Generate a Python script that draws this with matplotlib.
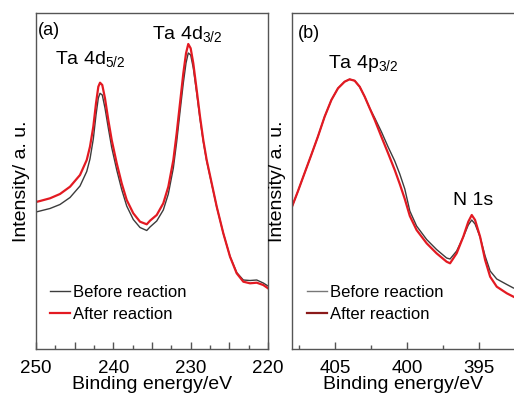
import matplotlib
matplotlib.use("Agg")
import matplotlib.pyplot as plt
from matplotlib.lines import Line2D
from matplotlib.ticker import MultipleLocator, FuncFormatter

plt.rcParams["font.family"] = ["Liberation Sans", "DejaVu Sans"]
plt.rcParams["mathtext.fontset"] = "custom"
plt.rcParams["mathtext.rm"] = "Liberation Sans"

# Panel (a): Ta 4d region (binding energy in eV, intensity in a.u.)
energy_a = [250.00, 249.48, 248.19, 246.90, 245.60, 244.31, 243.44, 243.02, 242.59,
            242.24, 241.94, 241.72, 241.43, 241.08, 240.65, 240.21, 239.56, 238.92,
            238.27, 237.42, 236.55, 235.68, 235.26, 234.39, 233.54, 232.89, 232.24,
            231.81, 231.38, 230.95, 230.60, 230.31, 230.00, 229.66, 229.22, 228.79,
            228.37, 227.93, 227.28, 226.63, 225.78, 224.91, 224.05, 223.19, 222.33,
            221.46, 220.61, 220.00]
after_a = [147, 148, 150.7, 155, 162.3, 174, 189, 202.3, 222.3,
           245.7, 262.3, 266.3, 264, 250.7, 229, 209, 185.7, 165.7,
           149, 135.7, 127.3, 124.7, 128.3, 134, 145.7, 162.3, 189,
           215.7, 245.7, 275.7, 295.7, 305, 300.7, 285.7, 259, 232.3,
           209, 189, 165.7, 142.3, 115.7, 92.3, 75.7, 67.3, 65.7,
           66.3, 64, 60.7]
before_a = [137, 138, 140.5, 144.5, 151.5, 163, 177.5, 190, 210,
            234, 251, 255.7, 254, 241, 221, 201.5, 179, 159.5,
            143, 129.5, 121.5, 118.5, 122, 128, 139, 155, 181,
            207, 237, 266, 286, 296, 294, 281, 256, 230,
            207.5, 188, 165, 142, 115.7, 92.5, 76.5, 69, 68.5,
            69, 66, 63]

# Panel (b): Ta 4p3/2 and N 1s region
energy_b = [408.00, 407.60, 407.13, 406.66, 406.20, 405.73, 405.26, 404.80, 404.34,
            403.99, 403.64, 403.29, 402.94, 402.59, 402.24, 401.78, 401.31, 400.85,
            400.50, 400.15, 399.80, 399.33, 398.63, 397.94, 397.24, 397.00, 396.54,
            396.08, 395.73, 395.49, 395.26, 394.91, 394.56, 394.21, 393.75, 393.05,
            392.59]
after_b = [142.3, 157.3, 175.7, 194, 212.3, 232.3, 249, 260.7, 267.3,
           269.7, 268.3, 262.3, 252.3, 240.7, 229, 212.3, 195.7, 179,
           165, 150, 133, 119, 105.7, 95.7, 87.3, 85.7, 95.7,
           112.3, 127.3, 134, 129, 112.3, 89, 72.3, 62.3, 55.7,
           52.3]
before_b = [142.3, 157.3, 175.7, 194, 212.3, 232.3, 249, 260.7, 267.3,
            269.7, 268.3, 262.3, 252.3, 240.7, 231, 217.3, 202, 188,
            175, 160, 138, 123, 109.5, 99.5, 91, 90, 98,
            112, 124, 129, 125, 112, 93, 78, 70, 64.5,
            61]

labels = ["Before reaction", "After reaction"]

W, H = 514, 396
fig = plt.figure(figsize=(W / 100, H / 100), dpi=100)
ax_a = fig.add_axes([36 / W, 47 / H, 232 / W, 336 / H])
ax_b = fig.add_axes([292 / W, 47 / H, 222 / W, 336 / H])

gray = "#3c3c3c"
red = "#e31a22"

for ax in (ax_a, ax_b):
    for s in ax.spines.values():
        s.set_color("#555555")
        s.set_linewidth(1.0)
    ax.set_yticks([])
    ax.set_ylim(0, 336)
    ax.xaxis.set_major_locator(MultipleLocator(5))
    ax.xaxis.set_minor_locator(MultipleLocator(2.5))
    ax.tick_params(axis="x", which="major", direction="in", length=5, width=1,
                   color="#555555", labelsize=13.5, pad=8)
    ax.tick_params(axis="x", which="minor", direction="in", length=3, width=1,
                   color="#555555")
    ax.set_xlabel("Binding energy/eV", fontsize=14, labelpad=-1)
    ax.set_ylabel("Intensity/ a. u.", fontsize=14, labelpad=4)

# (a)
ax_a.plot(energy_a, before_a, color=gray, lw=1.0)
ax_a.plot(energy_a, after_a, color=red, lw=1.6)
ax_a.set_xlim(250, 220)
ax_a.xaxis.set_major_formatter(
    FuncFormatter(lambda v, p: f"{v:.0f}" if round(v) % 10 == 0 else ""))
ax_a.text(0.009, 0.949, "(a)", transform=ax_a.transAxes, fontsize=13, va="center")
ax_a.text(0.082, 0.845, r"Ta 4d$_\mathregular{5/2}$", transform=ax_a.transAxes,
          fontsize=14, va="baseline")
ax_a.text(0.50, 0.92, r"Ta 4d$_\mathregular{3/2}$", transform=ax_a.transAxes,
          fontsize=14, va="baseline")
h_a = [Line2D([], [], color=gray, lw=1.0), Line2D([], [], color=red, lw=1.6)]
ax_a.legend(h_a, labels, loc="center left", bbox_to_anchor=(0.06, 0.135),
            frameon=False, fontsize=12, handlelength=1.2, handletextpad=0.2,
            borderpad=0, borderaxespad=0, labelspacing=0.4)

# (b)
ax_b.plot(energy_b, before_b, color=gray, lw=1.0)
ax_b.plot(energy_b, after_b, color=red, lw=1.6)
ax_b.set_xlim(408, 392.55)
ax_b.spines["right"].set_visible(False)
ax_b.text(0.027, 0.94, "(b)", transform=ax_b.transAxes, fontsize=13, va="center")
ax_b.text(0.162, 0.836, r"Ta 4p$_\mathregular{3/2}$", transform=ax_b.transAxes,
          fontsize=14, va="baseline")
ax_b.text(0.725, 0.429, "N 1s", transform=ax_b.transAxes, fontsize=14,
          va="baseline")
h_b = [Line2D([], [], color="#777777", lw=1.0),
       Line2D([], [], color="#8b1a1a", lw=1.6)]
ax_b.legend(h_b, labels, loc="center left", bbox_to_anchor=(0.068, 0.135),
            frameon=False, fontsize=12, handlelength=1.2, handletextpad=0.2,
            borderpad=0, borderaxespad=0, labelspacing=0.4)

fig.savefig("out.png", dpi=100)
